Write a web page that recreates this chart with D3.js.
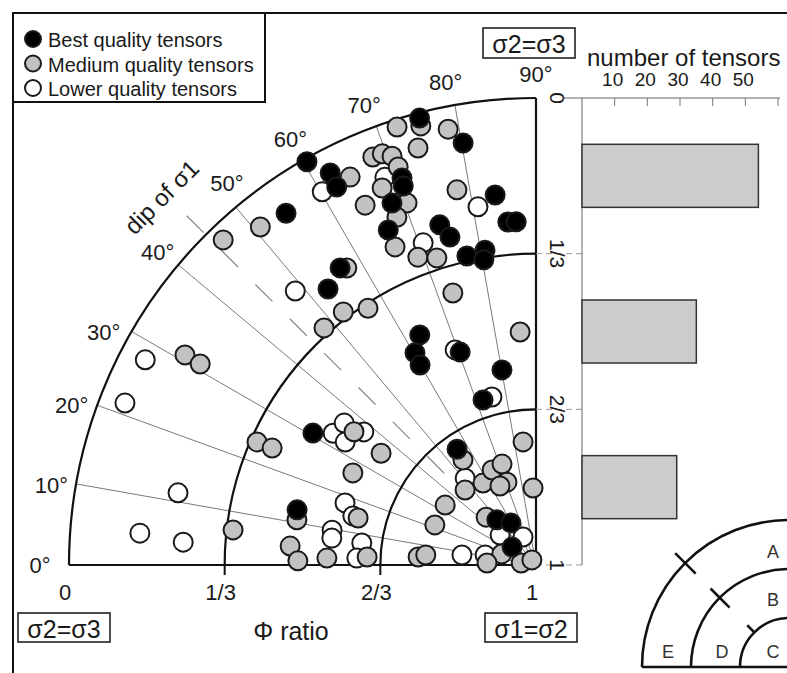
<!DOCTYPE html>
<html><head><meta charset="utf-8">
<script src="https://cdn.jsdelivr.net/npm/d3@7"></script>
<style>
body{margin:0;background:#fff}
svg{display:block}
text{font-family:"Liberation Sans",Arial,sans-serif;fill:#1a1a1a}
</style>
</head><body>
<svg id="c" width="787" height="673"></svg>
<script>
// ---- data: [phi ratio, dip of sigma1 (deg)] ----
const bestQuality = [[0.011,75.4],[0.083,80.2],[0.007,60.4],[0.052,62.3],[0.085,62.2],[0.123,70.9],[0.140,70.7],[0.166,68.3],[0.216,66.2],[0.203,83.7],[0.263,85.3],[0.264,86.7],[0.243,74.2],[0.274,75.3],[0.322,77.4],[0.317,80.8],[0.337,80.3],[0.076,54.6],[0.238,56.6],[0.260,53.0],[0.448,63.2],[0.477,60.3],[0.505,59.9],[0.516,70.4],[0.576,80.1],[0.629,72.2],[0.445,30.6],[0.475,13.0],[0.700,55.7],[0.872,49.1],[0.895,59.2],[0.936,36.9]];
const mediumQuality = [[0.016,72.4],[0.028,75.3],[0.048,78.6],[0.072,74.2],[0.059,68.2],[0.060,69.5],[0.072,70.6],[0.079,64.4],[0.098,70.9],[0.128,67.8],[0.147,64.6],[0.177,70.4],[0.198,68.2],[0.255,66.1],[0.179,78.1],[0.294,69.0],[0.309,72.1],[0.066,50.8],[0.034,46.1],[0.246,57.5],[0.391,73.0],[0.319,52.7],[0.343,56.8],[0.319,48.2],[0.500,86.1],[0.124,30.9],[0.162,30.9],[0.347,23.8],[0.382,23.9],[0.517,36.2],[0.591,35.8],[0.561,26.7],[0.606,14.8],[0.479,10.7],[0.347,6.6],[0.472,4.4],[0.490,1.0],[0.552,1.9],[0.638,2.7],[0.747,3.9],[0.763,5.2],[0.735,84.0],[0.726,55.2],[0.779,46.6],[0.791,57.1],[0.776,65.2],[0.772,71.4],[0.812,70.7],[0.814,65.5],[0.835,87.8],[0.767,33.4],[0.767,21.6],[0.852,43.8],[0.923,17.9],[0.895,2.3],[0.968,7.6],[0.986,51.0]];
const lowerQuality = [[0.079,60.2],[0.109,68.7],[0.223,80.8],[0.269,70.7],[0.219,48.7],[0.508,69.4],[0.628,75.3],[0.055,27.7],[0.054,21.5],[0.218,11.4],[0.149,4.6],[0.243,3.7],[0.482,33.0],[0.489,36.5],[0.514,32.8],[0.534,37.7],[0.570,18.0],[0.594,15.0],[0.557,9.7],[0.559,7.5],[0.624,7.2],[0.616,2.2],[0.760,50.8],[0.934,65.1],[0.900,39.8],[0.840,7.7],[0.889,11.1]];
const dipTicks = [0,10,20,30,40,50,60,70,80,90];
const phiTicks = [0,1/3,2/3,1];
const phiTickLabels = ["0","1/3","2/3","1"];
const histBins = ["0-1/3","1/3-2/3","2/3-1"];
const histCounts = [54,35,29];
const countTicks = [10,20,30,40,50,60];
const countTickLabels = ["10","20","30","40","50",""];
const legendLabels = ["Best quality tensors","Medium quality tensors","Lower quality tensors"];
const schematicLabels = ["A","B","C","D","E"];

// layout: angular placement of the dip labels (deg)
const dipLabelAngle = [0,9.3,19,28.3,39.6,51,60,69.5,79.4,90];

const svg = d3.select("#c");
const ox = 536, oy = 565, R = 467;
const rScale = d3.scaleLinear().domain([0,1]).range([R,0]);
const rad = d => d*Math.PI/180;
const px = (phi,dip,extra=0) => ox - (rScale(phi)+extra)*Math.cos(rad(dip));
const py = (phi,dip,extra=0) => oy - (rScale(phi)+extra)*Math.sin(rad(dip));

svg.append("rect").attr("width",787).attr("height",673).attr("fill","#fff");

// frame
svg.append("path").attr("d","M13,673V13H787").attr("fill","none").attr("stroke","#111").attr("stroke-width",2);

// radial lines
svg.append("g").selectAll("line").data(dipTicks.filter(d=>d>0&&d<90)).join("line")
  .attr("x1",ox).attr("y1",oy).attr("x2",d=>px(0,d)).attr("y2",d=>py(0,d))
  .attr("stroke","#7a7a7a").attr("stroke-width",1);

// dashed 45 line
svg.append("line")
  .attr("x1",px(0,45,27)).attr("y1",py(0,45,27))
  .attr("x2",px(0,45,-341)).attr("y2",py(0,45,-341))
  .attr("stroke","#8a8a8a").attr("stroke-width",1.3).attr("stroke-dasharray","24 24.6");

// arcs
[0,1/3,2/3].forEach(t=>{
  const r = rScale(t), p = d3.path();
  p.moveTo(ox-r,oy); p.arc(ox,oy,r,Math.PI,1.5*Math.PI);
  svg.append("path").attr("d",p.toString()).attr("fill","none").attr("stroke","#111").attr("stroke-width",2.2);
});
// axes
svg.append("line").attr("x1",px(0,0)).attr("y1",oy).attr("x2",ox).attr("y2",oy).attr("stroke","#111").attr("stroke-width",2.2);
svg.append("line").attr("x1",ox).attr("y1",oy).attr("x2",ox).attr("y2",oy-R).attr("stroke","#111").attr("stroke-width",2.2);
// bottom ticks
svg.append("g").selectAll("line").data([1/3,2/3]).join("line")
  .attr("x1",d=>px(d,0)).attr("x2",d=>px(d,0)).attr("y1",oy).attr("y2",oy+10)
  .attr("stroke","#111").attr("stroke-width",2);

// histogram
const hx = d3.scaleLinear().domain([0,60]).range([582,778]);
const hy = d3.scaleBand().domain(histBins).range([oy-R,oy]).paddingInner(0.595).paddingOuter(0.2975);
svg.append("g").selectAll("line").data(phiTicks.slice(1)).join("line")
  .attr("x1",ox).attr("x2",hx(0)).attr("y1",d=>oy-rScale(d)).attr("y2",d=>oy-rScale(d))
  .attr("stroke","#999").attr("stroke-width",1).attr("stroke-dasharray","6 4");
svg.append("line").attr("x1",563).attr("x2",hx(60)+2).attr("y1",oy-R).attr("y2",oy-R).attr("stroke","#666").attr("stroke-width",1);
svg.append("line").attr("x1",hx(0)).attr("x2",hx(0)).attr("y1",oy-R).attr("y2",oy).attr("stroke","#666").attr("stroke-width",1);
svg.append("g").selectAll("line").data(countTicks).join("line")
  .attr("x1",d=>hx(d)).attr("x2",d=>hx(d)).attr("y1",oy-R).attr("y2",oy-R+8).attr("stroke","#777").attr("stroke-width",1);
svg.append("g").selectAll("text").data(countTicks).join("text")
  .attr("x",d=>hx(d)-2).attr("y",86).attr("text-anchor","middle").attr("font-size",19)
  .text((d,i)=>countTickLabels[i]);
svg.append("text").attr("x",587).attr("y",66).attr("font-size",24).text("number of tensors");
svg.append("g").selectAll("rect").data(histCounts).join("rect")
  .attr("x",hx(0)).attr("y",(d,i)=>hy(histBins[i])).attr("height",hy.bandwidth())
  .attr("width",d=>hx(d)-hx(0)).attr("fill","#cccccc").attr("stroke","#333").attr("stroke-width",1.5);

// right axis labels (rotated)
svg.append("g").selectAll("text").data(phiTicks).join("text")
  .attr("transform",(d)=>`translate(557,${oy-rScale(d)}) rotate(90)`)
  .attr("text-anchor","middle").attr("dominant-baseline","central").attr("font-size",21)
  .text((d,i)=>phiTickLabels[i]);
// bottom labels
svg.append("g").selectAll("text").data(phiTicks).join("text")
  .attr("x",d=>px(d,0)-4).attr("y",600).attr("text-anchor","middle").attr("font-size",22)
  .text((d,i)=>phiTickLabels[i]);
// dip labels
svg.append("g").selectAll("text").data(dipTicks).join("text")
  .attr("x",(d,i)=>px(0,dipLabelAngle[i],i===0?29:24)).attr("y",(d,i)=>py(0,dipLabelAngle[i],i===0?29:24))
  .attr("text-anchor","middle").attr("dominant-baseline","central")
  .attr("font-size",22).text(d=>d+"°");
svg.append("text").attr("transform",`translate(${px(0,44.5,58)},${py(0,44.5,58)}) rotate(-45)`)
  .attr("text-anchor","middle").attr("dominant-baseline","central").attr("font-size",24).text("dip of σ1");

// points
const styles = [
  {data:lowerQuality, fill:"#ffffff"},
  {data:mediumQuality, fill:"#c2c2c2"},
  {data:bestQuality, fill:"#000000"}
];
styles.forEach(s=>{
  svg.append("g").selectAll("circle").data(s.data).join("circle")
    .attr("cx",d=>px(d[0],d[1])).attr("cy",d=>py(d[0],d[1])).attr("r",9.5)
    .attr("fill",s.fill).attr("stroke","#1a1a1a").attr("stroke-width",2);
});

// boxes
function box(x,y,w,h,label,fs){
  svg.append("rect").attr("x",x).attr("y",y).attr("width",w).attr("height",h).attr("fill","#fff").attr("stroke","#222").attr("stroke-width",1.6);
  svg.append("text").attr("x",x+w/2).attr("y",y+h/2+1).attr("text-anchor","middle").attr("dominant-baseline","central").attr("font-size",fs).text(label);
}
box(483,28,92,30,"σ2=σ3",25);
box(18,613,92,29,"σ2=σ3",25);
box(485,613,92,29,"σ1=σ2",25);
svg.append("text").attr("x",291).attr("y",631).attr("text-anchor","middle").attr("dominant-baseline","central").attr("font-size",25).text("Φ ratio");

// legend
svg.append("rect").attr("x",13).attr("y",13).attr("width",252).attr("height",89).attr("fill","#fff").attr("stroke","#111").attr("stroke-width",2);
const lf = ["#000000","#c2c2c2","#ffffff"];
legendLabels.forEach((l,i)=>{
  const cy = 39 + i*24.5;
  svg.append("circle").attr("cx",33).attr("cy",cy).attr("r",8).attr("fill",lf[i]).attr("stroke","#1a1a1a").attr("stroke-width",2);
  svg.append("text").attr("x",48).attr("y",cy+1).attr("dominant-baseline","central").attr("font-size",20).text(l);
});

// schematic
const sx = 789, sy = 667, sR = 147;
const sr = d3.scaleLinear().domain([0,1]).range([sR,0]);
[0,1/3,2/3].forEach(t=>{
  const r = sr(t), p = d3.path();
  p.moveTo(sx-r,sy); p.arc(sx,sy,r,Math.PI,1.5*Math.PI);
  svg.append("path").attr("d",p.toString()).attr("fill","none").attr("stroke","#111").attr("stroke-width",2.6);
});
svg.append("line").attr("x1",sx-sR).attr("x2",787).attr("y1",sy).attr("y2",sy).attr("stroke","#111").attr("stroke-width",2.6);
[[0,-15,14],[1/3,-14,13],[2/3,0,10]].forEach(([t,a,b])=>{
  const r = sr(t), c = Math.cos(rad(45)), s = Math.sin(rad(45));
  svg.append("line").attr("x1",sx-(r+a)*c).attr("y1",sy-(r+a)*s).attr("x2",sx-(r+b)*c).attr("y2",sy-(r+b)*s)
    .attr("stroke","#111").attr("stroke-width",2.6);
});
const sPos = [[773,552],[773,600],[773,652],[722,652],[668,652]];
svg.append("g").selectAll("text").data(schematicLabels).join("text")
  .attr("x",(d,i)=>sPos[i][0]).attr("y",(d,i)=>sPos[i][1]).attr("text-anchor","middle").attr("dominant-baseline","central")
  .attr("font-size",18).style("fill","#333").text(d=>d);
</script>
</body></html>
